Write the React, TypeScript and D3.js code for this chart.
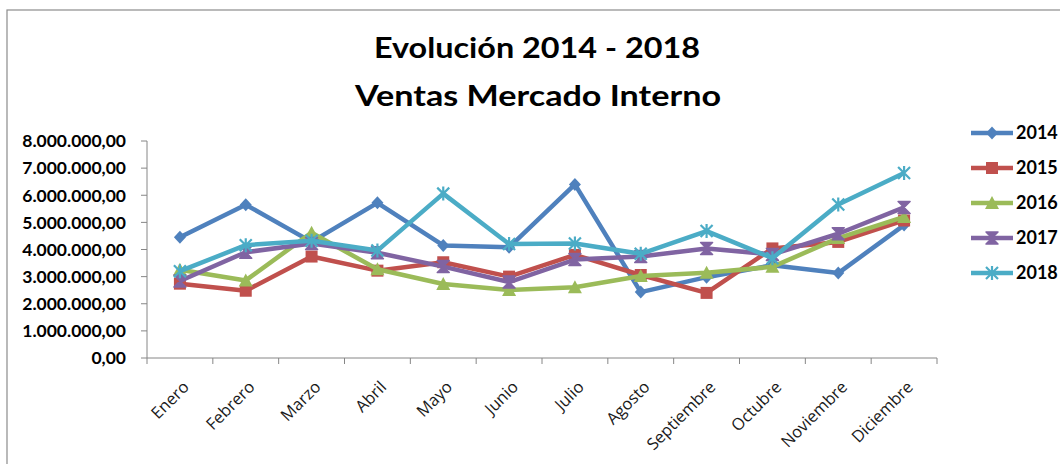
import { scaleBand, scaleLinear, line as d3Line, formatLocale, range } from 'd3'

const WIDTH = 1060
const HEIGHT = 464

const months = [
  'Enero', 'Febrero', 'Marzo', 'Abril', 'Mayo', 'Junio',
  'Julio', 'Agosto', 'Septiembre', 'Octubre', 'Noviembre', 'Diciembre',
]

const years = ['2014', '2015', '2016', '2017', '2018']

// ventas en millones
const v2014 = [4.45, 5.65, 4.28, 5.72, 4.15, 4.08, 6.4, 2.43, 2.98, 3.42, 3.13, 4.9]
const v2015 = [2.74, 2.48, 3.74, 3.22, 3.53, 3.0, 3.8, 3.06, 2.4, 4.04, 4.28, 5.07]
const v2016 = [3.25, 2.86, 4.62, 3.27, 2.73, 2.51, 2.61, 3.02, 3.14, 3.36, 4.42, 5.2]
const v2017 = [2.84, 3.9, 4.22, 3.88, 3.37, 2.8, 3.63, 3.74, 4.04, 3.82, 4.58, 5.55]
const v2018 = [3.2, 4.16, 4.32, 3.96, 6.06, 4.2, 4.22, 3.84, 4.68, 3.68, 5.66, 6.82]

const colors = ['#4F81BD', '#C0504D', '#9BBB59', '#8064A2', '#4BACC6']
const yTicks = [0, 1, 2, 3, 4, 5, 6, 7, 8]

const series = [v2014, v2015, v2016, v2017, v2018].map((values, i) => ({
  key: years[i],
  color: colors[i],
  values: values.map((v) => v * 1e6),
}))

const PLOT = { left: 147, right: 937, top: 141, bottom: 358 }

const esLocale = formatLocale({ decimal: ',', thousands: '.', grouping: [3], currency: ['', ''] })
const fmt = esLocale.format(',.2f')

function Marker({ kind, color, x, y }: { kind: number; color: string; x: number; y: number }) {
  const s = 6
  if (kind === 0) {
    return <path d={`M${x},${y - s - 0.5}L${x + s},${y}L${x},${y + s + 0.5}L${x - s},${y}Z`} fill={color} />
  }
  if (kind === 1) {
    return <rect x={x - s} y={y - s} width={s * 2} height={s * 2} fill={color} />
  }
  if (kind === 2) {
    return <path d={`M${x},${y - s - 1}L${x + s + 1},${y + s}L${x - s - 1},${y + s}Z`} fill={color} />
  }
  if (kind === 3) {
    return (
      <path
        d={`M${x - s},${y - s}L${x + s},${y - s}L${x - s},${y + s}L${x + s},${y + s}Z`}
        fill={color}
        stroke={color}
        strokeWidth={1.5}
        strokeLinejoin="round"
      />
    )
  }
  return (
    <path
      d={`M${x - s},${y - s}L${x + s},${y + s}M${x - s},${y + s}L${x + s},${y - s}M${x},${y - s - 1}L${x},${y + s + 1}`}
      stroke={color}
      strokeWidth={2.2}
      fill="none"
    />
  )
}

export default function App() {
  const x = scaleBand<string>().domain(months).range([PLOT.left, PLOT.right]).padding(0)
  const y = scaleLinear().domain([0, 8e6]).range([PLOT.bottom, PLOT.top])
  const cx = (m: string) => (x(m) ?? 0) + x.bandwidth() / 2

  const path = d3Line<number>()
    .x((_, i) => cx(months[i]))
    .y((d) => y(d))

  const boundaries = range(months.length + 1).map((i) => PLOT.left + i * x.bandwidth())
  const axisColor = '#868686'

  return (
    <svg
      width={WIDTH}
      height={HEIGHT}
      viewBox={`0 0 ${WIDTH} ${HEIGHT}`}
      style={{ position: 'absolute', left: 0, top: 0, background: '#fff' }}
    >
      <rect x={7} y={10} width={WIDTH + 10} height={HEIGHT} fill="#fff" stroke="#8c8c8c" strokeWidth={1.2} />

      <g fontFamily="Lato, 'Open Sans', sans-serif" fontWeight={700} fill="#000" textAnchor="middle">
        <text x={537} y={58} fontSize={29} textLength={326} lengthAdjust="spacingAndGlyphs">
          Evolución 2014 - 2018
        </text>
        <text x={538} y={106} fontSize={29} textLength={366} lengthAdjust="spacingAndGlyphs">
          Ventas Mercado Interno
        </text>
      </g>

      {/* eje Y */}
      <line x1={PLOT.left} x2={PLOT.left} y1={PLOT.top} y2={PLOT.bottom} stroke={axisColor} />
      {yTicks.map((t) => (
        <g key={t}>
          <line x1={PLOT.left - 6} x2={PLOT.left} y1={y(t * 1e6)} y2={y(t * 1e6)} stroke={axisColor} />
          <text
            x={126}
            y={y(t * 1e6)}
            dy="0.36em"
            textAnchor="end"
            fontFamily="Lato, 'Open Sans', sans-serif"
            fontWeight={700}
            fontSize={17.5}
            fill="#000"
          >
            {fmt(t * 1e6)}
          </text>
        </g>
      ))}

      {/* eje X */}
      <line x1={PLOT.left} x2={PLOT.right} y1={PLOT.bottom} y2={PLOT.bottom} stroke={axisColor} />
      {boundaries.map((b, i) => (
        <line key={i} x1={b} x2={b} y1={PLOT.bottom} y2={PLOT.bottom + 6} stroke={axisColor} />
      ))}
      {months.map((m) => (
        <text
          key={m}
          transform={`translate(${cx(m) + 6}, ${PLOT.bottom + 26}) rotate(-45)`}
          textAnchor="end"
          dy="0.35em"
          fontFamily="'Open Sans', Lato, sans-serif"
          fontSize={16.5}
          fill="#1a1a1a"
        >
          {m}
        </text>
      ))}

      {/* series */}
      {series.map((s, si) => (
        <g key={s.key}>
          <path d={path(s.values) ?? undefined} fill="none" stroke={s.color} strokeWidth={4.5} strokeLinejoin="round" />
          {s.values.map((v, i) => (
            <Marker key={i} kind={si} color={s.color} x={cx(months[i])} y={y(v)} />
          ))}
        </g>
      ))}

      {/* leyenda */}
      {series.map((s, si) => {
        const ly = 133 + si * 35
        return (
          <g key={s.key}>
            <line x1={971} x2={1013} y1={ly} y2={ly} stroke={s.color} strokeWidth={4.5} />
            <Marker kind={si} color={s.color} x={992} y={ly} />
            <text
              x={1016}
              y={ly}
              dy="0.36em"
              fontFamily="Lato, 'Open Sans', sans-serif"
              fontWeight={700}
              fontSize={18}
              fill="#000"
            >
              {s.key}
            </text>
          </g>
        )
      })}
    </svg>
  )
}
